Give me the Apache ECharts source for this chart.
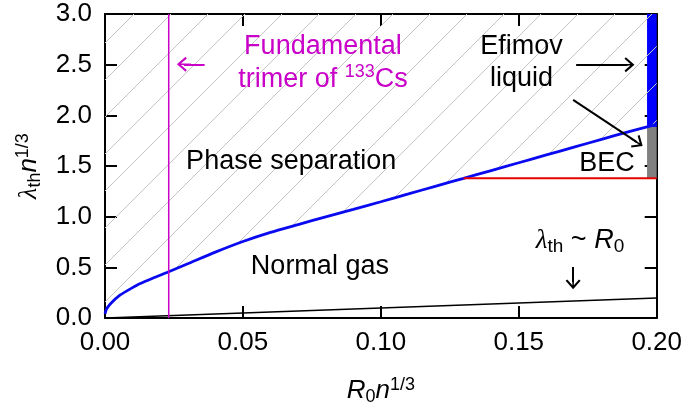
<!DOCTYPE html>
<html>
<head>
<meta charset="utf-8">
<script src="https://cdn.jsdelivr.net/npm/echarts@6/dist/echarts.min.js"></script>
<style>
html,body{margin:0;padding:0;background:#fff;}
#c{width:685px;height:412px;}
</style>
</head>
<body>
<div id="c"></div>
<script>
// ---- data ----
const xTicks = [0, 0.05, 0.10, 0.15, 0.20];
const yTicks = [0, 0.5, 1.0, 1.5, 2.0, 2.5, 3.0];

// phase-separation boundary (blue curve)
const boundaryX = [0, 0.0005, 0.002, 0.0054, 0.010, 0.0126, 0.0231, 0.030, 0.040, 0.050, 0.060, 0.070, 0.080, 0.090, 0.100, 0.110, 0.120, 0.130, 0.140, 0.150, 0.160, 0.170, 0.180, 0.190, 0.200];
const boundaryY = [0.04, 0.085, 0.14, 0.225, 0.300, 0.338, 0.457, 0.535, 0.650, 0.755, 0.845, 0.922, 0.998, 1.072, 1.147, 1.224, 1.302, 1.378, 1.455, 1.532, 1.609, 1.686, 1.763, 1.840, 1.910];

// lambda_th ~ R0 line
const thermalX = [0, 0.20];
const thermalY = [0, 0.197];

// BEC critical line (red)
const becX = [0.130, 0.20];
const becY = [1.379, 1.379];

// fundamental trimer of 133Cs (magenta vertical)
const trimerX = 0.0231;

// right-edge bars: [yFrom, yTo]
const becBar = [1.379, 1.885];
const efimovBar = [1.885, 3.0];
const barX = [0.1965, 0.20];

// arrows: [x1, y1, x2, y2]
const arrowTrimer = [0.0361, 2.504, 0.0286, 2.504];
const arrowEfimov1 = [0.1708, 2.50, 0.1894, 2.50];
const arrowEfimov2 = [0.1697, 2.152, 0.1928, 1.735];
const arrowThermal = [0.1697, 0.503, 0.1697, 0.352];

// annotation texts
const txtTrimer = '{m|Fundamental}\n{m|trimer of }{ms|133}{m|Cs}';
const txtPhase = 'Phase separation';
const txtNormal = 'Normal gas';
const txtEfimov = 'Efimov\nliquid';
const txtBEC = 'BEC';
const txtThermal = '{l|λ}{s|th}{t| ~ }{i|R}{s|0}';
const posTrimer = [0.0790, 2.52];
const posPhase = [0.0675, 1.54];
const posNormal = [0.0779, 0.51];
const posEfimov = [0.1510, 2.52];
const posBEC = [0.1820, 1.523];
const posThermal = [0.1722, 0.762];

// ---- styling ----
const FONT = '"Liberation Sans", Arial, Helvetica, sans-serif';
const MAG = '#c800c8';
const BLUE = '#0a0af0';

function hatchPattern() {
  const w = 37, h = 37;
  const cv = document.createElement('canvas');
  cv.width = w; cv.height = h;
  const ctx = cv.getContext('2d');
  ctx.strokeStyle = '#c4c4c4';
  ctx.lineWidth = 1;
  for (const ox of [-w, 0, w]) {
    ctx.beginPath();
    ctx.moveTo(ox, h);
    ctx.lineTo(ox + w, 0);
    ctx.stroke();
  }
  return {image: cv, repeat: 'repeat'};
}

// open arrow head with a stem (tip at top)
const chevron = 'path://M50,0 L100,62 L89,71 L55,29 L55,100 L45,100 L45,29 L11,71 L0,62 Z';

function zip(a, b) { return a.map((v, i) => [v, b[i]]); }
function arrow(a, color) {
  return [{coord: [a[0], a[1]], lineStyle: {color: color, width: 2, type: 'solid'}},
          {coord: [a[2], a[3]]}];
}

const chart = echarts.init(document.getElementById('c'), null, {renderer: 'canvas'});

const axisLineStyle = {color: '#000', width: 2};
const tickStyle = {show: true, inside: true, length: 12, lineStyle: {color: '#000', width: 2}};

const textLabel = (text, size, color, extraRich) => ({
  show: true, position: 'inside', formatter: text,
  fontFamily: FONT, fontSize: size, color: color, lineHeight: 32, opacity: 1,
  align: 'center', verticalAlign: 'middle',
  rich: extraRich || {}
});

const option = {
  animation: false,
  backgroundColor: '#fff',
  grid: {left: 105, right: 26, top: 14, bottom: 94, containLabel: false},
  xAxis: [{
    type: 'value', min: 0, max: 0.2, interval: 0.05, position: 'bottom',
    axisLine: {show: true, onZero: false, lineStyle: axisLineStyle},
    axisTick: tickStyle, splitLine: {show: false},
    axisLabel: {fontFamily: FONT, fontSize: 26, color: '#000', margin: 12,
      formatter: v => v.toFixed(2)},
    name: '{i|R}{s|0}{i|n}{p|1/3}', nameLocation: 'middle', nameGap: 58,
    nameTextStyle: {fontFamily: FONT, fontSize: 26, color: '#000',
      rich: {
        i: {fontFamily: FONT, fontSize: 26, fontStyle: 'italic', color: '#000', lineHeight: 30},
        s: {fontFamily: FONT, fontSize: 18, color: '#000', verticalAlign: 'bottom', lineHeight: 18},
        p: {fontFamily: FONT, fontSize: 18, color: '#000', verticalAlign: 'top', lineHeight: 16}
      }}
  }, {
    type: 'value', min: 0, max: 0.2, interval: 0.05, position: 'top',
    axisLine: {show: true, onZero: false, lineStyle: axisLineStyle},
    axisTick: tickStyle, splitLine: {show: false}, axisLabel: {show: false}
  }],
  yAxis: [{
    type: 'value', min: 0, max: 3, interval: 0.5, position: 'left',
    axisLine: {show: true, onZero: false, lineStyle: axisLineStyle},
    axisTick: tickStyle, splitLine: {show: false},
    axisLabel: {fontFamily: FONT, fontSize: 26, color: '#000', margin: 13,
      formatter: v => v.toFixed(1)},
    name: '{l|λ}{s|th}{i|n}{p|1/3}', nameLocation: 'middle', nameGap: 61, nameRotate: 90,
    nameTextStyle: {fontFamily: FONT, fontSize: 26, color: '#000',
      rich: {
        l: {fontFamily: '"Liberation Serif", serif', fontSize: 26, fontStyle: 'italic', color: '#000', lineHeight: 30},
        i: {fontFamily: FONT, fontSize: 26, fontStyle: 'italic', color: '#000', lineHeight: 30},
        s: {fontFamily: FONT, fontSize: 18, color: '#000', verticalAlign: 'bottom', lineHeight: 18},
        p: {fontFamily: FONT, fontSize: 18, color: '#000', verticalAlign: 'top', lineHeight: 16}
      }}
  }, {
    type: 'value', min: 0, max: 3, interval: 0.5, position: 'right',
    axisLine: {show: true, onZero: false, lineStyle: axisLineStyle},
    axisTick: tickStyle, splitLine: {show: false}, axisLabel: {show: false}
  }],
  series: [
    { // hatched phase-separation region + boundary
      name: 'boundary', type: 'line', z: 3, symbol: 'none', smooth: 0.2,
      data: zip(boundaryX, boundaryY),
      lineStyle: {color: BLUE, width: 2.8},
      areaStyle: {color: hatchPattern(), opacity: 1, origin: 'end'}
    },
    {
      name: 'thermal', type: 'line', z: 4, symbol: 'none',
      data: zip(thermalX, thermalY),
      lineStyle: {color: '#000', width: 1.6}
    },
    {
      name: 'bec', type: 'line', z: 4, symbol: 'none',
      data: zip(becX, becY),
      lineStyle: {color: '#e80000', width: 2.2}
    },
    {
      name: 'trimer', type: 'line', z: 4, symbol: 'none',
      data: [[trimerX, 0], [trimerX, 3]],
      lineStyle: {color: MAG, width: 1.5}
    },
    {
      name: 'bars', type: 'line', z: 6, symbol: 'none', data: [],
      markArea: {
        silent: true,
        data: [
          [{coord: [barX[0], becBar[0]], itemStyle: {color: '#808080', opacity: 1}}, {coord: [barX[1], becBar[1]]}],
          [{coord: [barX[0], efimovBar[0]], itemStyle: {color: '#0000ff', opacity: 1}}, {coord: [barX[1], efimovBar[1]]}]
        ]
      }
    },
    {
      name: 'arrows', type: 'line', z: 7, symbol: 'none', data: [],
      markLine: {
        silent: true, symbol: ['none', chevron], symbolSize: [15, 14],
        label: {show: false},
        lineStyle: {type: 'solid', width: 2},
        data: [
          arrow(arrowTrimer, MAG),
          arrow(arrowEfimov1, '#000'),
          arrow(arrowEfimov2, '#000'),
          arrow(arrowThermal, '#000')
        ]
      }
    },
    {
      name: 'text', type: 'scatter', z: 8, symbolSize: 0, silent: true,
      itemStyle: {opacity: 1},
      data: [
        {value: posTrimer, label: textLabel(txtTrimer, 27, MAG, {
          m: {fontFamily: FONT, fontSize: 27, color: MAG, lineHeight: 33},
          ms: {fontFamily: FONT, fontSize: 18, color: MAG, verticalAlign: 'top', lineHeight: 22}
        })},
        {value: posPhase, label: textLabel(txtPhase, 27, '#000')},
        {value: posNormal, label: textLabel(txtNormal, 27, '#000')},
        {value: posEfimov, label: textLabel(txtEfimov, 27, '#000')},
        {value: posBEC, label: textLabel(txtBEC, 27, '#000')},
        {value: posThermal, label: textLabel(txtThermal, 27, '#000', {
          l: {fontFamily: '"Liberation Serif", serif', fontSize: 27, fontStyle: 'italic', color: '#000', lineHeight: 30},
          s: {fontFamily: FONT, fontSize: 19, color: '#000', verticalAlign: 'bottom', lineHeight: 19},
          t: {fontFamily: FONT, fontSize: 27, color: '#000', lineHeight: 30},
          i: {fontFamily: FONT, fontSize: 27, fontStyle: 'italic', color: '#000', lineHeight: 30}
        })}
      ]
    }
  ]
};
chart.setOption(option);
</script>
</body>
</html>
